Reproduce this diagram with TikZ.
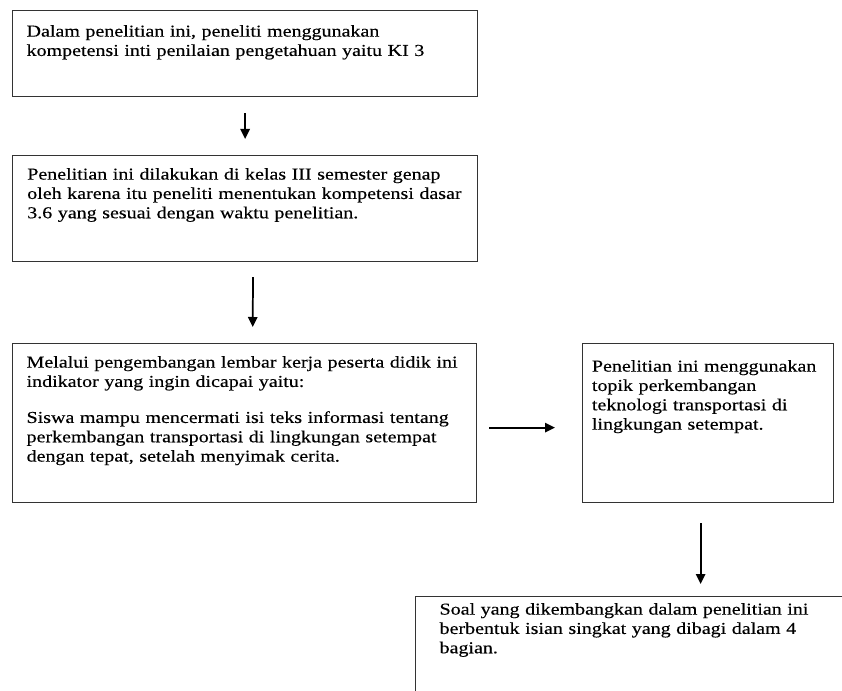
\documentclass[tikz,border=0pt]{standalone}
\usepackage{fontspec}
\setmainfont[FakeStretch=1.2, FakeBold=0.3]{Liberation Serif}
\usetikzlibrary{arrows.meta}

\tikzset{
    flowbox/.style={draw=black!80, line width=0.9pt, anchor=north west, align=left,
        inner ysep=0pt, font=\fontsize{12.5pt}{14.5pt}\selectfont},
    flowarrow/.style={line width=1.3pt, -{Triangle[width=7pt,length=7.5pt]}}
}

\begin{document}
\begin{tikzpicture}[x=0.75pt, y=-0.75pt]
    \useasboundingbox (0,0) rectangle (842,691);
    \clip (0,0) rectangle (842,691);

    % Draw the boxes
    \node[flowbox, inner xsep=10.5pt, text width=327.75pt, text height=19.5pt, text depth=45pt]
        (ki) at (12,10) {Dalam penelitian ini, peneliti menggunakan\\
        kompetensi inti penilaian pengetahuan yaitu KI 3};
    \node[flowbox, inner xsep=11pt, text width=326.75pt, text height=18pt, text depth=61.5pt]
        (kd) at (12,155) {Penelitian ini dilakukan di kelas III semester genap\\
        oleh karena itu peneliti menentukan kompetensi dasar\\
        3.6 yang sesuai dengan waktu penelitian.};
    \node[flowbox, inner xsep=10.5pt, text width=327pt, text height=18pt, text depth=101.25pt]
        (indikator) at (12,343) {Melalui pengembangan lembar kerja peserta didik ini\\
        indikator yang ingin dicapai yaitu:\\[12.5pt]
        Siswa mampu mencermati isi teks informasi tentang\\
        perkembangan transportasi di lingkungan setempat\\
        dengan tepat, setelah menyimak cerita.};
    \node[flowbox, inner xsep=7pt, text width=174.25pt, text height=21pt, text depth=98.25pt]
        (topik) at (582,343) {Penelitian ini menggunakan\\
        topik perkembangan\\
        teknologi transportasi di\\
        lingkungan setempat.};
    \node[flowbox, inner xsep=18pt, text width=305.25pt, text height=13.5pt, text depth=69pt]
        (soal) at (415,596) {Soal yang dikembangkan dalam penelitian ini\\
        berbentuk isian singkat yang dibagi dalam 4\\
        bagian.};

    % Draw the arrows
    \draw[flowarrow, shorten <=12pt, shorten >=12pt] (ki.south) -- (kd.north);
    \draw[flowarrow, shorten <=11.25pt, shorten >=12pt] ([xshift=6pt]kd.south) -- ([xshift=6pt]indikator.north);
    \draw[flowarrow, shorten <=9pt, shorten >=20.25pt] ([yshift=-3.4pt]indikator.east) -- ([yshift=-3.4pt]topik.west);
    \draw[flowarrow, shorten <=15pt, shorten >=9pt] ([xshift=-5.6pt]topik.south) -- ([xshift=-5.6pt]topik.south |- soal.north);
\end{tikzpicture}
\end{document}
